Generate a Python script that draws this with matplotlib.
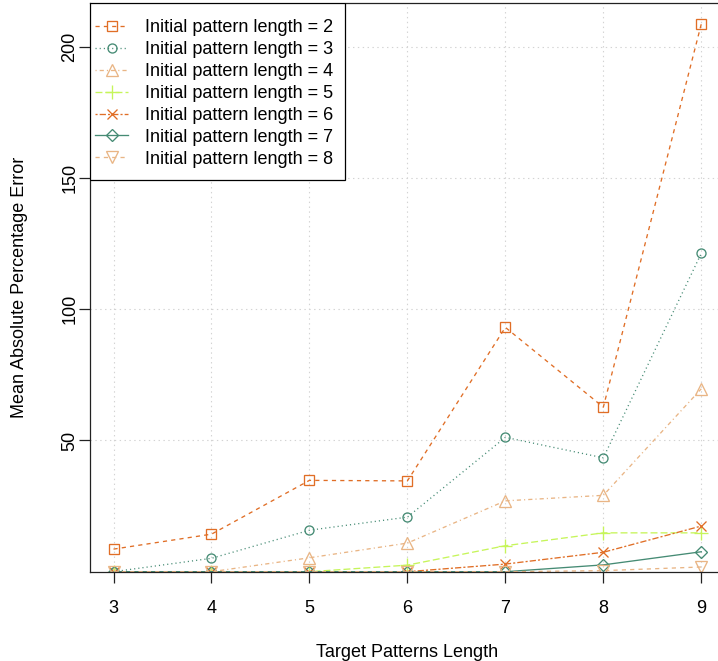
import numpy as np
import matplotlib
matplotlib.use("Agg")
import matplotlib.pyplot as plt
from matplotlib.patches import Rectangle

plt.rcParams['font.family'] = ['Liberation Sans', 'DejaVu Sans']
plt.rcParams['lines.scale_dashes'] = False

# target pattern length on the x axis
target_len = [3, 4, 5, 6, 7, 8, 9]

# mean absolute percentage error per initial pattern length
mape_len2 = [8.6, 14.3, 34.8, 34.6, 93.1, 62.7, 208.7]
mape_len3 = [0.0, 5.1, 15.8, 20.8, 51.2, 43.4, 121.3]
mape_len4 = [0.0, 0.0, 5.3, 10.9, 27.0, 29.1, 69.7]
mape_len5 = [0.0, 0.0, 0.0, 2.5, 9.9, 14.8, 14.8]
mape_len6 = [0.0, 0.0, 0.0, 0.0, 2.9, 7.4, 17.4]
mape_len7 = [0.0, 0.0, 0.0, 0.0, 0.0, 2.6, 7.6]
mape_len8 = [0.0, 0.0, 0.0, 0.0, 0.0, 0.4, 1.8]

series = [mape_len2, mape_len3, mape_len4, mape_len5, mape_len6, mape_len7, mape_len8]
labels = ["Initial pattern length = %d" % n for n in range(2, 9)]

orange = '#E06E26'
green = '#458B74'
tan = '#E9B585'
lime = '#C6F55A'
colors = [orange, green, tan, lime, orange, green, tan]
markers = ['s', 'o', '^', '+', 'x', 'D', 'v']
msizes = [7.0, 6.5, 8.5, 9.5, 7.5, 6.0, 8.5]
# R style line types (in points)
styles = [(0, (3, 3)), (0, (0.8, 2.2)), (0, (0.8, 2.2, 3, 2.2)), (0, (5, 2.2)),
          (0, (1.5, 1.5, 4.5, 1.5)), '-', (0, (3, 3))]

fig = plt.figure(figsize=(7.18, 6.61), dpi=100)
ax = fig.add_axes([90 / 718, 89.3 / 661, 634.8 / 718, 568.7 / 661])

for vals, lab, c, m, ms, ls in zip(series, labels, colors, markers, msizes, styles):
    ax.plot(target_len, vals, color=c, linestyle=ls, linewidth=0.95,
            marker=m, markersize=ms, markerfacecolor='none',
            markeredgecolor=c, markeredgewidth=0.95, label=lab)

ax.set_xlim(2.76, 9.24)
ax.set_ylim(0, 216.7)
ax.set_xticks(target_len)
ax.set_yticks([50, 100, 150, 200])
ax.grid(True, color='#d3d3d3', linestyle=(0, (1, 2.5)), linewidth=0.8)
ax.set_axisbelow(True)

for s in ax.spines.values():
    s.set_color('#222222')
    s.set_linewidth(0.9)

ax.tick_params(labelsize=13, length=8, width=0.9, color='#222222')
ax.tick_params(axis='x', pad=12.5)
ax.tick_params(axis='y', pad=0.5)
for t in ax.get_yticklabels():
    t.set_rotation(90)
    t.set_va('center')

ax.set_xlabel("Target Patterns Length", fontsize=13, labelpad=19)
ax.set_ylabel("Mean Absolute Percentage Error", fontsize=13, labelpad=24)

# legend box drawn like R's legend frame
box = Rectangle((0, 1 - 177 / 568.7), 255 / 634.8, 177 / 568.7, transform=ax.transAxes,
                facecolor='white', edgecolor='black', linewidth=0.9, zorder=5)
ax.add_patch(box)
leg = ax.legend(loc='upper left', bbox_to_anchor=(0, 1 - 11 / 568.7), fontsize=13,
                numpoints=1, frameon=False, borderaxespad=0, borderpad=0.3,
                handlelength=1.82, handletextpad=0.95, labelspacing=0.27)
leg.set_zorder(6)

fig.savefig("out.png", dpi=100)
